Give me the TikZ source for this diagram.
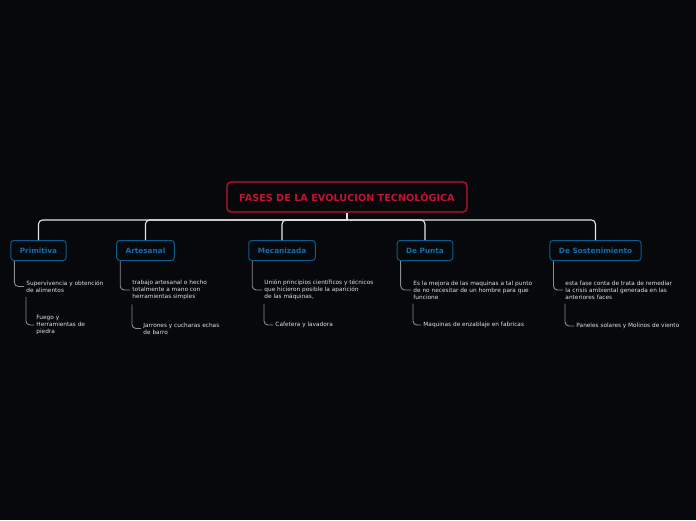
\documentclass[tikz,border=0pt]{standalone}
\usepackage{fontspec}
\setmainfont{DejaVu Sans}
\definecolor{bg}{RGB}{7,8,11}
\definecolor{rootred}{RGB}{196,18,48}
\definecolor{phaseblue}{RGB}{10,92,140}
\definecolor{phasetext}{RGB}{16,110,170}
\definecolor{leafgrey}{RGB}{225,225,225}
\definecolor{subgrey}{RGB}{140,140,140}
\definecolor{linkwhite}{RGB}{228,228,228}
\begin{document}
\begin{tikzpicture}[x=1pt,y=-1pt,line width=0.9pt,
  root/.style={draw=rootred,rounded corners=4pt,line width=1.3pt,text=rootred,
    font=\bfseries\fontsize{9.7}{11}\selectfont,minimum width=240pt,minimum height=30pt},
  phase/.style={draw=phaseblue,rounded corners=3pt,line width=1pt,text=phasetext,
    font=\bfseries\fontsize{7.3}{9}\selectfont,minimum height=20pt,inner xsep=9pt},
  leaf/.style={anchor=west,align=left,inner sep=2pt,text=leafgrey,
    font=\fontsize{5.8}{7}\selectfont},
  link/.style={draw=linkwhite,line width=1.1pt,rounded corners=4pt},
  sub/.style={draw=subgrey,line width=0.9pt,rounded corners=4pt}]
 \fill[bg] (0,0) rectangle (696,520);
 \useasboundingbox (0,0) rectangle (696,520);
 \node[root] (root) at (347,197) {FASES DE LA EVOLUCION TECNOLÓGICA};
 \node[phase] (prim) at (38.5,250.5) {Primitiva};
 \node[phase] (arte) at (145.5,250.5) {Artesanal};
 \node[phase] (meca) at (282,250.5) {Mecanizada};
 \node[phase] (punta) at (425,250.5) {De Punta};
 \node[phase] (sost) at (595.5,250.5) {De Sostenimiento};
 \coordinate (bar) at (347,220);
 \draw[link] (root.south) -- (bar);
 \foreach \n in {prim,arte,meca,punta,sost} \draw[link] (bar) -| (\n.north);
 \node[leaf] (prim1) at (24,286.5) {Supervivencia y obtención\\de alimentos};
 \node[leaf] (prim2) at (34,325) {Fuego y\\Herramientas de\\piedra};
 \node[leaf] (arte1) at (130,290) {trabajo artesanal o hecho\\totalmente a mano con\\herramientas simples};
 \node[leaf] (arte2) at (141,328.5) {Jarrones y cucharas echas\\de barro};
 \node[leaf] (meca1) at (262,290) {Unión principios científicos y técnicos\\que hicieron posible la aparición\\de las máquinas,};
 \node[leaf] (meca2) at (273,325) {Cafetera y lavadora};
 \node[leaf] (punta1) at (411,290) {Es la mejora de las maquinas a tal punto\\de no necesitar de un hombre para que\\funcione};
 \node[leaf] (punta2) at (421,325) {Maquinas de enzablaje en fabricas};
 \node[leaf] (sost1) at (563,290) {esta fase conta de trata de remediar\\la crisis ambiental generada en las\\anteriores faces};
 \node[leaf] (sost2) at (574,326) {Paneles solares y Molinos de viento};
 \foreach \n in {prim,arte,meca,punta,sost} {
  \draw[sub] ([xshift=4pt]\n.south west) |- (\n1.west);
  \draw[sub] ([xshift=2pt,yshift=-2pt]\n1.south west) |- (\n2.west);
 }
\end{tikzpicture}
\end{document}
